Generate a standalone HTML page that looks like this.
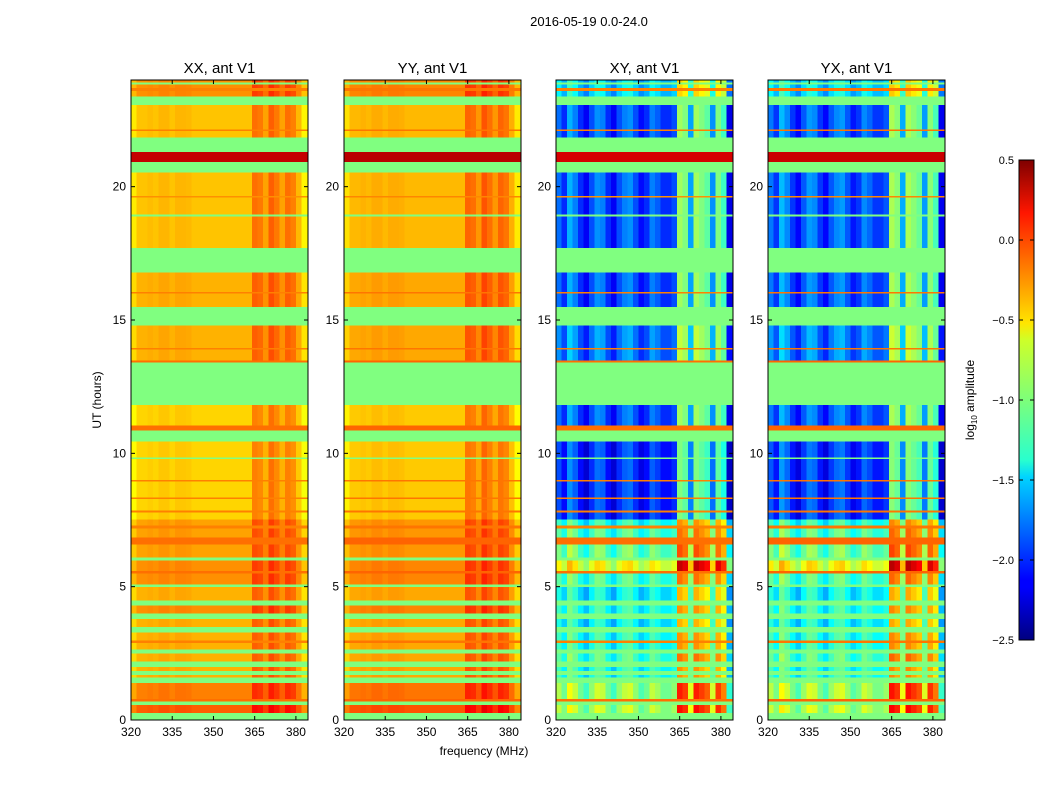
<!DOCTYPE html>
<html><head><meta charset="utf-8"><style>
body{margin:0;background:#fff;}
svg{display:block;font-family:"Liberation Sans",sans-serif;}
</style></head><body>
<svg id="fig" width="1050" height="800" viewBox="0 0 1050 800">
<defs>
<linearGradient id="jetgrad" x1="0" y1="1" x2="0" y2="0">
<stop offset="0" stop-color="#00007f"/><stop offset="0.11" stop-color="#0000ff"/><stop offset="0.125" stop-color="#0000ff"/>
<stop offset="0.34" stop-color="#00d4ff"/><stop offset="0.375" stop-color="#29ffce"/><stop offset="0.5" stop-color="#7dff7a"/>
<stop offset="0.625" stop-color="#ceff29"/><stop offset="0.66" stop-color="#ffe500"/><stop offset="0.89" stop-color="#ff1600"/>
<stop offset="1" stop-color="#7f0000"/>
</linearGradient>
</defs>
<text x="589" y="26" font-size="13" text-anchor="middle">2016-05-19 0.0-24.0</text>
<text x="484" y="755" font-size="12" text-anchor="middle">frequency (MHz)</text>
<text x="0" y="0" font-size="12" text-anchor="middle" transform="translate(101,400) rotate(-90)">UT (hours)</text>
<g id="panels"></g>
<g>
<rect x="1019" y="160" width="15" height="480" fill="url(#jetgrad)" stroke="#000" stroke-width="1"/>
</g>
<g id="cbticks"></g>
<text x="0" y="0" font-size="12" text-anchor="middle" transform="translate(974,400) rotate(-90)">log<tspan font-size="8" dy="3">10</tspan><tspan dy="-3"> amplitude</tspan></text>
</svg>
<script>
// Time segments: [startHour, endHour, kind, parallelLevel, crossLevel]; kind g=flagged, d=data, h=uniform
const segments = [
[0,0.27,'g',0,0],[0.27,0.57,'d',-0.15,-1.0],[0.57,0.7,'g',0,0],[0.7,0.8,'h',-0.2,-0.2],
[0.8,1.4,'d',-0.25,-1.05],[1.4,1.6,'g',0,0],[1.6,1.7,'d',-0.4,-1.4],[1.7,1.85,'g',0,0],
[1.85,2.0,'d',-0.4,-1.4],[2.0,2.2,'g',0,0],[2.2,2.5,'d',-0.4,-1.3],[2.5,2.65,'g',0,0],
[2.65,2.9,'d',-0.4,-1.4],[2.9,3.0,'h',-0.25,-0.25],[3.0,3.3,'d',-0.4,-1.4],[3.3,3.5,'g',0,0],
[3.5,3.8,'d',-0.4,-1.5],[3.8,4.0,'g',0,0],[4.0,4.3,'d',-0.3,-1.4],[4.3,4.5,'g',0,0],
[4.5,5.0,'d',-0.4,-1.5],[5.0,5.1,'g',0,0],[5.1,5.5,'d',-0.3,-1.3],[5.5,5.6,'h',-0.2,-0.2],
[5.6,6.0,'d',-0.3,-0.8],[6.0,6.1,'g',0,0],[6.1,6.6,'d',-0.35,-1.2],[6.6,6.85,'h',-0.2,-0.2],
[6.85,7.2,'d',-0.35,-1.3],[7.2,7.3,'h',-0.25,-0.25],[7.3,7.54,'d',-0.35,-1.4],
[7.54,10.45,'d',-0.5,-2.1],[7.8,7.85,'h',-0.25,-0.25],[8.3,8.35,'h',-0.25,-0.25],[8.95,9.0,'h',-0.25,-0.25],
[9.8,9.85,'g',0,0],[10.45,10.88,'g',0,0],[10.88,11.06,'h',-0.2,-0.2],[11.06,11.83,'d',-0.5,-2.0],
[11.83,13.43,'g',0,0],[13.43,13.5,'h',-0.2,-0.2],[13.5,14.81,'d',-0.4,-1.9],[13.9,13.95,'h',-0.25,-0.25],
[14.81,15.5,'g',0,0],[15.5,16.8,'d',-0.4,-2.0],[16.0,16.05,'h',-0.25,-0.25],[16.8,17.72,'g',0,0],
[17.72,20.55,'d',-0.45,-2.0],[18.9,18.95,'g',0,0],[19.6,19.65,'h',-0.3,-0.3],[20.55,20.94,'g',0,0],
[20.94,21.32,'h',0.3,0.25],[21.32,21.86,'g',0,0],[21.86,23.08,'d',-0.45,-2.0],[22.1,22.15,'h',-0.25,-0.25],
[23.08,23.39,'g',0,0],[23.39,24,'d',-0.3,-1.6],[23.6,23.7,'h',-0.25,-0.25],[23.85,23.9,'g',0,0]
];
// Frequency bin starts (MHz, 2 MHz wide)
const freqBins = [320,322,324,326,328,330,332,334,336,338,340,342,344,346,348,350,352,354,356,358,360,362,364,366,368,370,372,374,376,378,380,382];
const parOffsets = [-0.12,0,0,0.02,0,0.04,0.04,0,0.04,0.04,0.03,0,0,0,0,0,0,0,0,0,0,0,0.25,0.22,0.1,0.3,0.22,0.1,0.25,0.2,0.03,-0.15];
const crossOffsets = [0.2,0,0.4,0.25,0,-0.15,0.1,0.3,0.25,0,-0.15,0.1,0.25,0.3,0.1,-0.1,0,0.25,0.15,0,0,0.1,1.1,1.0,0.35,1.1,1.0,0.9,0.3,1.0,0.8,-0.2];
const panelTitles = ['XX, ant V1','YY, ant V1','XY, ant V1','YX, ant V1'];
const panelKinds = ['par','par','cross','cross'];
const panelShift = [0,0.03,0,0.03];
const xTicks = [320,335,350,365,380];
const yTicks = [0,5,10,15,20];
const cbTicks = [0.5,0.0,-0.5,-1.0,-1.5,-2.0,-2.5];
const panelLefts = [131,344,556,768];
const PW=177, TOP=80, BOT=720, F0=320, F1=384.4, VMIN=-2.5, VMAX=0.5, FLAG=-1.0;
const NS='http://www.w3.org/2000/svg';
function yScale(h){return BOT-(h/24)*(BOT-TOP);}
function jet(v){let t=(v-VMIN)/(VMAX-VMIN);t=Math.max(0,Math.min(1,t));
 const c=x=>Math.round(255*Math.max(0,Math.min(1,1.5-Math.abs(x))));
 return `rgb(${c(4*t-3)},${c(4*t-2)},${c(4*t-1)})`;}
function mk(tag,attrs,parent){const e=document.createElementNS(NS,tag);for(const k in attrs)e.setAttribute(k,attrs[k]);parent.appendChild(e);return e;}
const root=document.getElementById('panels');
panelLefts.forEach((L,p)=>{
 const xScale=f=>L+(f-F0)/(F1-F0)*PW;
 const g=mk('g',{},root);
 
 
 const hm=mk('g',{'shape-rendering':'crispEdges'},g);
 
 
 const offs=panelKinds[p]==='par'?parOffsets:crossOffsets;
 segments.forEach(s=>{
  const y0=yScale(s[1]),y1=yScale(s[0]);
  const lvl=(panelKinds[p]==='par'?s[3]:s[4])+panelShift[p];
  freqBins.forEach((f,i)=>{
   let v;
   if(s[2]==='g')v=FLAG;else if(s[2]==='h')v=lvl;else v=lvl+offs[i];
   const x0=xScale(f),x1=Math.min(xScale(f+2),L+PW);
   const r=mk('rect',{x:x0,y:y0,width:x1-x0+0.4,height:y1-y0+0.4,fill:jet(v)},hm);
   
   
  });
 });
 const fr=mk('rect',{x:L,y:TOP,width:PW,height:BOT-TOP,fill:'none',stroke:'#000','stroke-width':1},g);
 
 
 const t=mk('text',{x:L+PW/2,y:TOP-7,'font-size':15,'text-anchor':'middle'},g);
 t.textContent=panelTitles[p];
 
 
 xTicks.forEach(v=>{const x=xScale(v);
  mk('line',{x1:x,x2:x,y1:BOT,y2:BOT-4,stroke:'#000'},g);
  mk('line',{x1:x,x2:x,y1:TOP,y2:TOP+4,stroke:'#000'},g);
  const tt=mk('text',{x:x,y:BOT+16,'font-size':12,'text-anchor':'middle'},g);tt.textContent=v;
  
  });
 yTicks.forEach(v=>{const y=yScale(v);
  mk('line',{x1:L,x2:L+4,y1:y,y2:y,stroke:'#000'},g);
  mk('line',{x1:L+PW,x2:L+PW-4,y1:y,y2:y,stroke:'#000'},g);
  const tt=mk('text',{x:L-5,y:y+4,'font-size':12,'text-anchor':'end'},g);tt.textContent=v;
  
  });
});
const cb=document.getElementById('cbticks');
cbTicks.forEach(v=>{const y=160+(VMAX-v)/(VMAX-VMIN)*480;
 mk('line',{x1:1034,x2:1030,y1:y,y2:y,stroke:'#000'},cb);
 mk('line',{x1:1019,x2:1023,y1:y,y2:y,stroke:'#000'},cb);
 const tt=mk('text',{x:1014,y:y+4,'font-size':11,'text-anchor':'end'},cb);tt.textContent=v.toFixed(1).replace('-','\u2212');
 
 });
</script>
</body></html>
